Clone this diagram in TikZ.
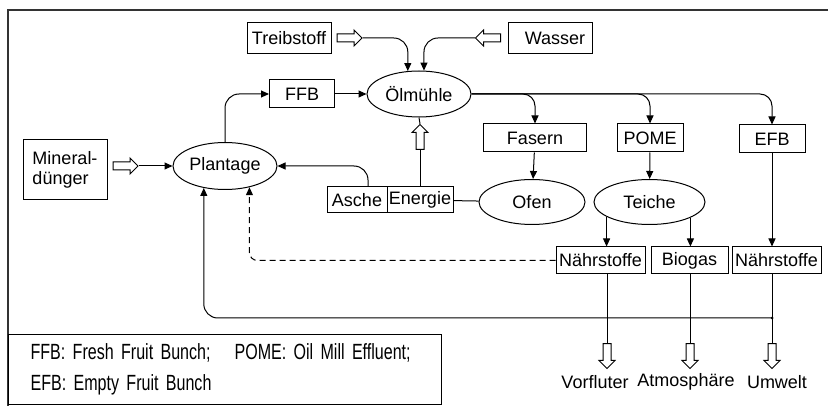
\documentclass[tikz,border=0pt]{standalone}
\usepackage{fontspec}
\setmainfont{Liberation Sans}
\newfontfamily\legendfont[FakeStretch=0.73]{Liberation Sans}
\usetikzlibrary{arrows.meta,shapes.geometric,shapes.arrows}

\begin{document}
\begin{tikzpicture}[x=1pt, y=-1pt,
  box/.style={draw, line width=1pt, inner sep=0pt, align=center, font=\fontsize{18}{20}\selectfont},
  oval/.style={draw, ellipse, line width=1pt, inner sep=0pt, font=\fontsize{18}{20}\selectfont},
  hollow/.style={draw, single arrow, line width=1pt, minimum height=25pt, single arrow head extend=4pt, inner sep=3.5pt, fill=white},
  arrow/.style={-{Triangle[length=8pt, width=7pt]}, line width=1pt},
  link/.style={line width=1pt},
  sink/.style={inner sep=0pt, font=\fontsize{18}{20}\selectfont}
]
\useasboundingbox (0,0) rectangle (828,406);

\draw[line width=1.5pt, black!80] (8,406) -- (8,10) -- (828,10);

\node[box, minimum width=84pt, minimum height=31pt] (treib) at (289,38) {Treibstoff};
\node[hollow] (treibin) at (347.5,38) {};
\node[box, minimum width=84pt, minimum height=31pt] (wasser) at (550,38) {\hspace{10pt}Wasser};
\node[hollow, shape border rotate=180] (wasserin) at (490,38) {};
\node[oval, minimum width=104pt, minimum height=46pt] (muehle) at (419,94) {Ölmühle};
\node[box, minimum width=65pt, minimum height=28pt] (ffb) at (302,94) {FFB};
\node[box, minimum width=84pt, minimum height=60pt, align=left] (duenger) at (65,170) {Mineral-\\dünger};
\node[hollow] (duengerin) at (123.5,166) {};
\node[oval, minimum width=104pt, minimum height=47pt] (plantage) at (225,166) {Plantage};
\node[box, minimum width=60pt, minimum height=26pt] (asche) at (357,200) {Asche};
\node[box, minimum width=66pt, minimum height=26pt] (energie) at (420,200) {Energie};
\node[hollow, shape border rotate=90] (energieup) at (420,139) {};
\node[oval, minimum width=106pt, minimum height=45pt] (ofen) at (532,202) {Ofen};
\node[oval, minimum width=111pt, minimum height=45pt] (teiche) at (649.5,202) {Teiche};
\node[box, minimum width=103pt, minimum height=28pt] (fasern) at (535,138) {Fasern};
\node[box, minimum width=66pt, minimum height=28pt] (pome) at (650,138) {POME};
\node[box, minimum width=66pt, minimum height=28pt] (efb) at (772,139) {EFB};
\node[box, minimum width=89pt, minimum height=27pt] (naehr1) at (600.5,260.5) {Nährstoffe};
\node[box, minimum width=77pt, minimum height=27pt] (biogas) at (689.5,260.5) {Biogas};
\node[box, minimum width=89pt, minimum height=27pt] (naehr2) at (776.5,260.5) {Nährstoffe};

\node[hollow, shape border rotate=270] (vorin) at (607,354) {};
\node[hollow, shape border rotate=270] (atmosin) at (690,354) {};
\node[hollow, shape border rotate=270] (umweltin) at (772,354) {};
\node[sink] (vorfluter) at (595,382) {Vorfluter};
\node[sink] (atmos) at (686,382) {Atmosphäre};
\node[sink] (umwelt) at (777,382) {Umwelt};

\node[draw, line width=1.2pt, anchor=north west, inner xsep=22pt, inner ysep=0pt, text width=389pt, minimum height=70pt, align=left, font=\legendfont\fontsize{22}{31}\selectfont] (legend) at (8,334) {FFB: Fresh Fruit Bunch;\hspace{24pt}POME: Oil Mill Effluent;\\EFB: Empty Fruit Bunch};

\draw[arrow, rounded corners=14pt] (treibin.tip) -| (muehle.116);
\draw[arrow, rounded corners=14pt] (wasserin.tip) -| (muehle.78);
\draw[arrow] (ffb) -- (muehle);
\draw[arrow, rounded corners=14pt] (plantage.north) |- (ffb.west);
\draw[arrow] (duengerin.tip) -- (plantage.west);
\draw[arrow, rounded corners=14pt] ([xshift=11pt]asche.north) |- (plantage.east);
\draw[link] (energie.north) -- (energieup.tail);
\draw[link] (energieup.tip) -- (muehle.south);
\draw[link] (energie) -- (ofen);
\draw[arrow, rounded corners=12pt] (muehle.east) -| (fasern.north);
\draw[arrow, rounded corners=12pt] (muehle.east) -| (pome.north);
\draw[arrow, rounded corners=12pt] (muehle.east) -| (efb.north);
\draw[arrow] (fasern) -- (ofen);
\draw[arrow] (pome) -- (teiche);
\draw[arrow] (teiche.199) -- (teiche.199 |- naehr1.north);
\draw[arrow] (teiche.339) -- (teiche.339 |- biogas.north);
\draw[arrow] (efb.south) -- (efb.south |- naehr2.north);
\draw[arrow, dash pattern=on 6pt off 4pt, rounded corners=8pt] (naehr1.west) -| (plantage.319);
\draw[link] (naehr1.south -| vorin) -- (vorin.tail);
\draw[link] (biogas.south -| atmosin) -- (atmosin.tail);
\draw[link] (naehr2.south -| umweltin) -- (umweltin.tail);
\coordinate (back) at (772,318);
\fill (back) circle (1.5pt);
\draw[arrow, rounded corners=14pt] (back) -| (plantage.226);
\end{tikzpicture}
\end{document}
